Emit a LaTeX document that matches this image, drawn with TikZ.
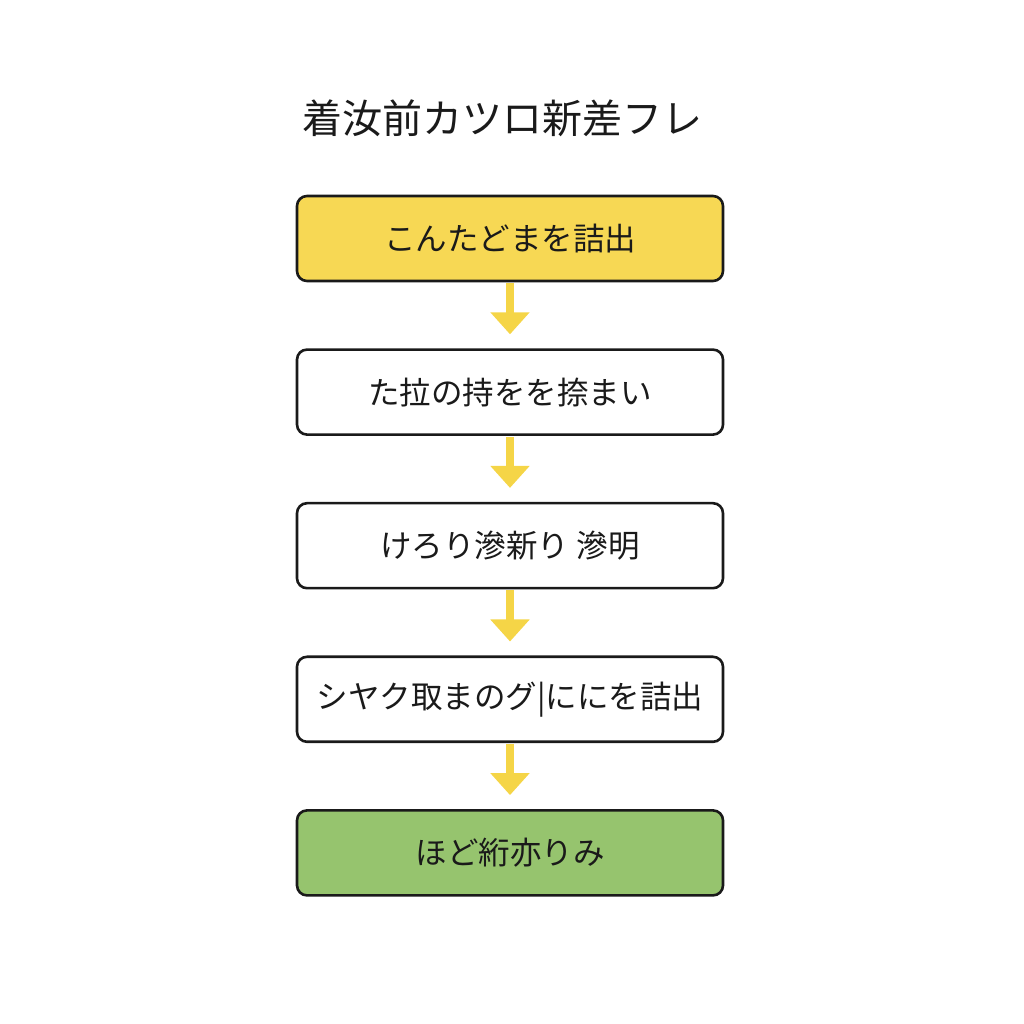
\documentclass[tikz,border=0pt]{standalone}
\usepackage{fontspec}
\newfontfamily\jpfont{Noto Sans CJK JP}
\usetikzlibrary{positioning,arrows.meta}
\definecolor{stepyellow}{HTML}{F7D854}
\definecolor{stepgreen}{HTML}{96C46E}
\definecolor{arrowyellow}{HTML}{F5D547}
\definecolor{inkline}{HTML}{1A1A1A}

\begin{document}
\begin{tikzpicture}[x=1pt,y=1pt,
    stepbox/.style={draw=inkline,line width=2.6pt,rounded corners=10pt,minimum width=426pt,minimum height=85pt,inner sep=0pt,text=inkline,font=\jpfont\fontsize{31.5}{36}\selectfont},
    flow/.style={arrowyellow,line width=8pt,-{Triangle[width=38pt,length=22pt]},shorten >=14pt}]
    \useasboundingbox (0,0) rectangle (1024,1024);
    \node[anchor=west,text=inkline,font=\jpfont\fontsize{40}{46}\selectfont] (title) at (299,906) {着汝前カツロ新差フレ};
    \node[stepbox,fill=stepyellow] (s1) at (510,785.5) {こんたどまを詰出};
    \node[stepbox,fill=white,below=66pt of s1] (s2) {た拉の持をを捺まい};
    \node[stepbox,fill=white,below=66pt of s2] (s3) {けろり滲新り 滲明};
    \node[stepbox,fill=white,below=66pt of s3] (s4) {シヤク取まのグ|ににを詰出};
    \node[stepbox,fill=stepgreen,below=66pt of s4] (s5) {ほど絎亦りみ};
    \foreach \a/\b in {s1/s2,s2/s3,s3/s4,s4/s5}
        \draw[flow] ([yshift=-1pt]\a.south) -- (\b.north);
\end{tikzpicture}
\end{document}
